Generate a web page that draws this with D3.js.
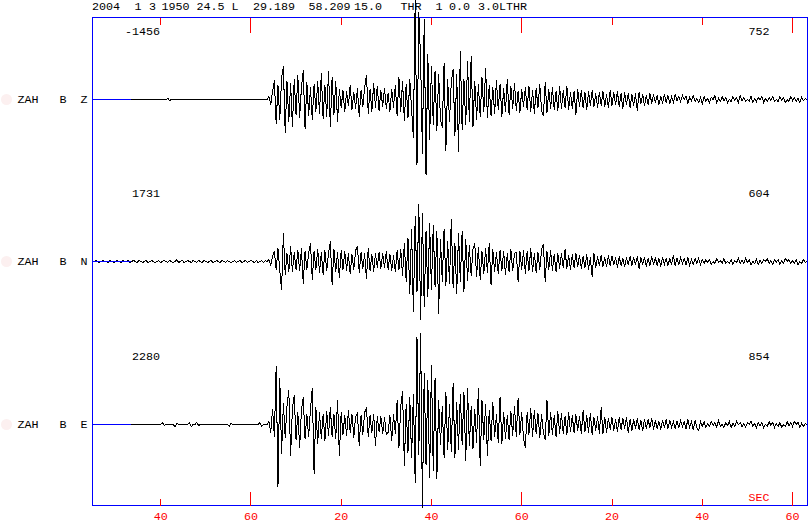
<!DOCTYPE html>
<html><head><meta charset="utf-8">
<script src="https://cdn.jsdelivr.net/npm/d3@7"></script>
<style>
body{margin:0;background:#fff}
svg{display:block}
text{font-family:"Liberation Mono","DejaVu Sans Mono",monospace}
</style>
</head><body>
<script>
// ---------------- DATA ----------------
const headerTokens = ["2004","1","3","1950","24.5","L","29.189","58.209","15.0","THR","1","0.0","3.0LTHR"];
const stations   = ["ZAH","ZAH","ZAH"];
const bands      = ["B","B","B"];
const components = ["Z","N","E"];
const leftCounts  = ["-1456","1731","2280"];
const rightCounts = ["752","604","854"];
const unitLabel = "SEC";
const startTime = 24.9, endTime = 183.3, sampleStep = 0.4;   // seconds after 19:50
const tickValues = [40,60,80,100,120,140,160,180];
const minuteTicks = [60,120,180];
const markWindow = [24.9, 33.5];

// amplitude samples every 0.4 s (trace units)
const zSamples = [
 0,0,0,0,0,0,0,0,0,0,0,0,0,0,0,0,0,0,0,0,
 0,0,0,0,0,0,0,0,0,0,0,0,0,0,0,0,0,0,0,0,
 0,0,1,-1,0,0,0,0,0,0,0,0,0,0,0,0,0,0,0,0,
 0,0,0,0,0,0,0,0,0,0,0,0,0,0,0,0,0,0,0,0,
 0,0,0,0,0,0,0,0,0,0,0,0,0,0,0,0,0,0,3,-5,
 8,19,-24,14,-20,22,33,-33,18,-22,16,-27,20,-15,24,-18,12,29,-29,17,
 -16,12,-20,15,-12,18,-14,26,-19,14,-17,28,-27,22,-15,18,-22,10,-8,9,
 -12,8,-6,14,-10,7,-9,11,-17,9,-7,12,24,-14,10,-12,16,-8,13,-11,
 9,-7,11,-9,6,-12,10,-8,14,-16,22,-12,18,-21,15,-18,20,-10,-38,99,
 -65,87,40,-54,80,-75,45,-40,33,-25,28,-31,25,-20,-28,36,-51,20,-22,18,
 30,-36,25,-52,48,-30,20,-25,38,-22,43,-27,18,-20,15,-17,22,-12,31,-18,
 14,-16,12,-14,19,-10,15,-17,11,-12,20,-15,13,-9,16,-11,8,-13,10,-7,
 12,-10,13,-12,9,-14,11,-8,15,-11,-16,17,-13,10,-9,12,-10,8,-11,13,
 -9,9,-8,13,-10,7,-9,8,-15,10,-7,9,-8,7,-10,8,-6,9,-7,6,
 -8,7,-6,8,-7,5,-8,9,-6,7,-5,8,-7,6,-9,7,-5,6,-8,5,
 -6,6,-11,7,-4,5,-6,4,-5,6,-4,5,-3,4,-5,3,-4,5,-3,4,
 -4,3,-3,5,-1,3,-2,4,0,3,-4,2,-1,4,-2,1,-3,2,-4,3,
 -2,1,-3,2,0,4,-3,1,-2,3,-1,2,-3,0,-2,3,-1,2,-3,4,
 -1,2,-2,0,-2,3,-3,1,-2,2,0,3,-3,1,-2,2,-1,3,-2,0,
 -2,3,-1,2,-3,0,-2,3,-1,2,-2,1,-3,2,-1,1,0
];
const nSamples = [
 0,0,1,0,-1,0,1,0,0,-1,1,0,-1,0,1,0,-1,1,0,0,
 1,-1,0,1,0,-1,1,0,-1,0,1,-1,0,1,0,-1,0,1,-1,0,
 1,0,-1,1,0,-1,0,2,-1,0,1,-1,0,1,0,-1,1,0,-1,1,
 0,-1,1,0,-1,0,1,-1,0,1,0,-1,1,0,-1,1,0,-1,0,1,
 -1,0,1,-1,0,1,-1,0,1,0,-1,1,-1,0,1,-1,1,0,2,-4,
 5,10,-8,13,-9,-28,28,-13,8,-10,15,-10,9,-8,11,-9,13,-22,10,-8,
 9,18,-18,10,-8,12,-11,9,-13,11,-9,8,20,-23,12,-10,9,-16,11,-8,
 10,-9,8,-12,7,-8,11,15,-11,9,-7,8,-17,13,-9,7,-10,8,-6,9,
 -7,8,-6,10,-8,7,-9,6,-10,11,-8,12,-14,18,-20,23,-32,32,-50,45,
 -30,57,-58,48,-45,30,-35,38,-28,36,-25,30,-52,22,-20,32,-24,20,-22,42,
 -26,18,-32,28,-20,30,-30,22,-19,16,-14,12,18,-15,14,-18,10,-12,13,-11,
 18,-23,12,-10,9,-12,11,-9,10,-13,8,-10,12,-9,8,9,-20,10,-8,11,
 -12,10,-9,13,-10,8,-11,9,-8,12,17,-20,10,-8,11,-9,7,-10,8,-7,
 8,-6,12,-7,6,-8,7,-6,8,-5,6,-7,5,-6,7,-8,4,-15,8,-6,
 5,-4,6,-5,4,-5,6,-4,5,-3,4,-6,5,-4,3,-5,4,-3,5,-4,
 4,-3,5,-7,4,-3,4,-5,3,-4,5,-3,4,-4,3,-5,4,-3,3,-4,
 3,-3,6,-4,3,-3,4,-2,3,-3,4,-4,2,-3,3,-2,3,-3,2,-2,
 2,-1,2,-3,0,-2,3,-1,1,-2,3,-2,0,-2,2,-3,1,-1,3,-2,
 1,-2,3,-1,2,-3,0,-2,2,-3,1,-2,2,0,3,-2,1,-3,2,-1,
 2,-3,1,-2,3,0,2,-2,1,-2,2,-3,0,-2,2,-1,0
];
const eSamples = [
 0,0,0,0,0,0,0,0,0,0,0,0,0,0,0,0,0,0,0,0,
 0,0,0,0,0,0,0,0,0,0,0,0,0,0,0,0,0,0,0,2,
 -1,0,0,0,0,0,-2,1,0,0,0,0,0,0,2,-2,0,0,2,-1,
 0,0,0,0,0,0,0,0,0,0,0,0,0,0,0,0,-2,1,0,0,
 0,0,0,0,0,0,0,0,0,0,0,0,0,2,-2,0,0,0,3,-8,
 15,-12,58,-62,46,-29,21,-13,18,34,-31,16,29,-15,12,-23,14,27,-14,10,
 -12,15,36,-49,17,-19,12,-14,10,-16,13,-11,17,-12,10,-14,24,-31,12,-10,
 9,-11,14,-8,10,-13,8,11,-21,9,-10,12,17,-12,9,-8,10,-21,8,-7,
 8,-9,7,-10,-8,9,-16,10,-9,24,-23,18,33,-41,20,-28,27,-33,30,-58,
 87,-30,91,-83,51,-40,44,-53,59,-46,46,-54,24,-20,18,-33,32,-25,20,-27,
 41,-33,22,-25,30,-20,32,-36,36,-21,18,-24,15,-18,36,-41,24,-15,20,-31,
 14,-16,22,-12,10,-18,27,-19,12,-14,9,-15,13,-11,18,-12,26,-10,12,-14,
 -23,12,-10,16,-12,14,-9,11,-13,10,-8,-15,24,-11,12,-10,9,-12,13,-9,
 11,-9,8,-10,12,-7,9,-8,10,-6,8,-9,14,-7,9,-8,11,-10,7,-6,
 8,-9,17,-9,7,-8,6,-5,7,-6,5,-7,7,-5,6,-4,7,-8,5,-6,
 5,-4,6,-5,4,-6,5,-4,5,-3,6,-5,4,-4,3,-5,4,-3,5,-4,
 4,-3,3,-4,3,-3,4,-2,3,-4,5,-3,3,-5,4,-3,-6,3,-2,3,
 -3,1,-2,3,-1,2,-3,4,-2,0,-3,2,-1,3,-3,1,-2,3,0,2,
 -2,1,-3,2,0,3,-2,1,-3,2,-1,2,-3,0,-2,3,-1,2,-3,1,
 -2,2,-3,0,-2,3,-1,2,-2,3,0,2,-3,1,-2,1,0
];
const traces = [zSamples, nSamples, eSamples];

// ---------------- LAYOUT ----------------
const W = 809, H = 525;
const plot = {left: 92, right: 807, top: 17.5, bottom: 505.5};
const baselines = [99.5, 261.5, 424.5];
const headerX = [92, 134.5, 149, 161.5, 196.5, 231.5, 253, 308.5, 354, 400.5, 435.5, 449, 478];
const BLUE = "#0000ff", RED = "#ff0000", FONT = "11.7px";

const svg = d3.select("body").append("svg").attr("width", W).attr("height", H);
svg.append("rect").attr("width", W).attr("height", H).attr("fill", "#fff");

const x = d3.scaleLinear().domain([startTime, endTime]).range([plot.left, plot.right]);
const y = d3.scaleLinear().domain([-100, 100]).range([100, -100]);

// header
svg.append("g").selectAll("text").data(headerTokens).join("text")
  .attr("x", (d, i) => headerX[i]).attr("y", 10)
  .attr("font-size", FONT).attr("fill", "#000").text(d => d);

// frame
svg.append("rect")
  .attr("x", plot.left + 0.5).attr("y", plot.top)
  .attr("width", plot.right - plot.left).attr("height", plot.bottom - plot.top)
  .attr("fill", "none").attr("stroke", BLUE).attr("stroke-width", 1)
  .attr("shape-rendering", "crispEdges");

function styleAxis(g) {
  g.select(".domain").remove();
  g.selectAll(".tick line").attr("stroke", RED).attr("shape-rendering", "crispEdges");
  g.selectAll(".tick text").attr("fill", RED).attr("font-size", FONT)
    .attr("font-family", '"Liberation Mono", monospace');
}
// top ticks
svg.append("g").attr("transform", `translate(0,${plot.top})`)
  .call(d3.axisTop(x).tickValues(tickValues).tickSize(-7).tickFormat(""))
  .call(styleAxis);
svg.append("g").attr("transform", `translate(0,${plot.top})`)
  .call(d3.axisTop(x).tickValues(minuteTicks).tickSize(-15).tickFormat(""))
  .call(styleAxis);
// bottom ticks with labels (seconds within the minute)
svg.append("g").attr("transform", `translate(0,${plot.bottom})`)
  .call(d3.axisBottom(x).tickValues(tickValues).tickSize(-7).tickPadding(6)
        .tickFormat(d => String(d % 60 === 0 ? 60 : d % 60)))
  .call(styleAxis);
svg.append("g").attr("transform", `translate(0,${plot.bottom})`)
  .call(d3.axisBottom(x).tickValues(minuteTicks).tickSize(-14).tickFormat(""))
  .call(styleAxis);

svg.append("text").attr("x", 769.5).attr("y", 501).attr("text-anchor", "end")
  .attr("font-size", FONT).attr("fill", RED).text(unitLabel);

// traces
const line = d3.line()
  .x((d, i) => x(startTime + i * sampleStep))
  .y(d => y(d));

traces.forEach((samples, k) => {
  const g = svg.append("g").attr("transform", `translate(0,${baselines[k]})`);
  g.append("circle").attr("cx", 6.5).attr("cy", 0).attr("r", 5.5).attr("fill", "#fcf0f0");
  g.append("text").attr("x", 17.5).attr("y", 3.5).attr("font-size", FONT).text(stations[k]);
  g.append("text").attr("x", 59.5).attr("y", 3.5).attr("font-size", FONT).text(bands[k]);
  g.append("text").attr("x", 80.5).attr("y", 3.5).attr("font-size", FONT).text(components[k]);
  g.append("text").attr("x", 160).attr("y", -64.5).attr("text-anchor", "end")
    .attr("font-size", FONT).text(leftCounts[k]);
  g.append("text").attr("x", 769.5).attr("y", -64.5).attr("text-anchor", "end")
    .attr("font-size", FONT).text(rightCounts[k]);
  g.append("path").datum(samples).attr("d", line)
    .attr("fill", "none").attr("stroke", "#000").attr("stroke-width", 1)
    .attr("shape-rendering", "crispEdges");
  g.append("line")
    .attr("x1", x(markWindow[0])).attr("x2", x(markWindow[1]))
    .attr("y1", 0).attr("y2", 0)
    .attr("stroke", BLUE).attr("stroke-width", 1).attr("shape-rendering", "crispEdges");
});
</script>
</body></html>
